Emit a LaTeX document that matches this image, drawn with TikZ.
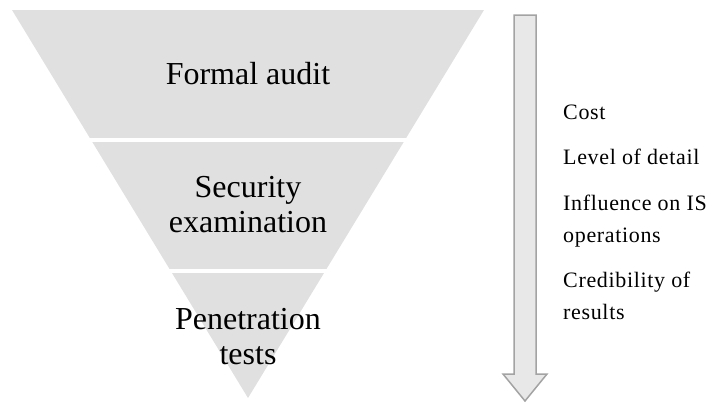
\documentclass[tikz,border=0pt]{standalone}
\usepackage{fontspec}
\setmainfont{Liberation Serif}
\newfontfamily\sidefont[LetterSpace=3]{Liberation Serif}
\usetikzlibrary{positioning}
\definecolor{levelgray}{RGB}{224,224,224}
\definecolor{arrowfill}{RGB}{232,232,232}
\definecolor{arrowline}{RGB}{163,163,163}

\begin{document}
\begin{tikzpicture}[x=1pt, y=-1pt,
    level/.style={anchor=base, align=center, inner sep=0pt, font=\fontsize{32}{35}\selectfont},
    sidetext/.style={anchor=base west, align=left, inner sep=0pt, font=\sidefont\fontsize{22}{32}\selectfont},
    gapline/.style={white, line width=4pt}]

      % --- Page Frame ---
      \useasboundingbox (0,0) rectangle (712,405);

      % --- Define Dimensions ---
      \def\topY{10}
      \def\tipY{398}
      \def\midX{248}

      % --- Inverted Pyramid ---
      \fill[levelgray] (12,\topY) -- (484,\topY) -- (\midX,\tipY) -- cycle;

      % --- White Gaps Between Levels ---
      \draw[gapline] (60,139.5) -- (440,139.5);
      \draw[gapline] (140,271) -- (360,271);

      % --- Level Labels (base = last line) ---
      \node[level] (audit) at (\midX,84) {Formal audit};
      \node[level] (exam) at (\midX,232) {Security\\examination};
      \node[level] (pentest) at (\midX,364) {Penetration\\tests};

      % --- Downward Arrow ---
      \draw[arrowline, fill=arrowfill, line width=1.5pt, line join=miter]
        (514,15) -- (536,15) -- (536,374) -- (547,374) -- (525,401)
        -- (503,374) -- (514,374) -- cycle;

      % --- Side Labels ---
      \node[sidetext] (cost) at (563,119) {Cost};
      \node[sidetext] (detail) at (563,164) {Level of detail};
      \node[sidetext] (influence) at (563,242) {Influence on IS\\operations};
      \node[sidetext] (credible) at (563,319) {Credibility of\\results};

\end{tikzpicture}
\end{document}
